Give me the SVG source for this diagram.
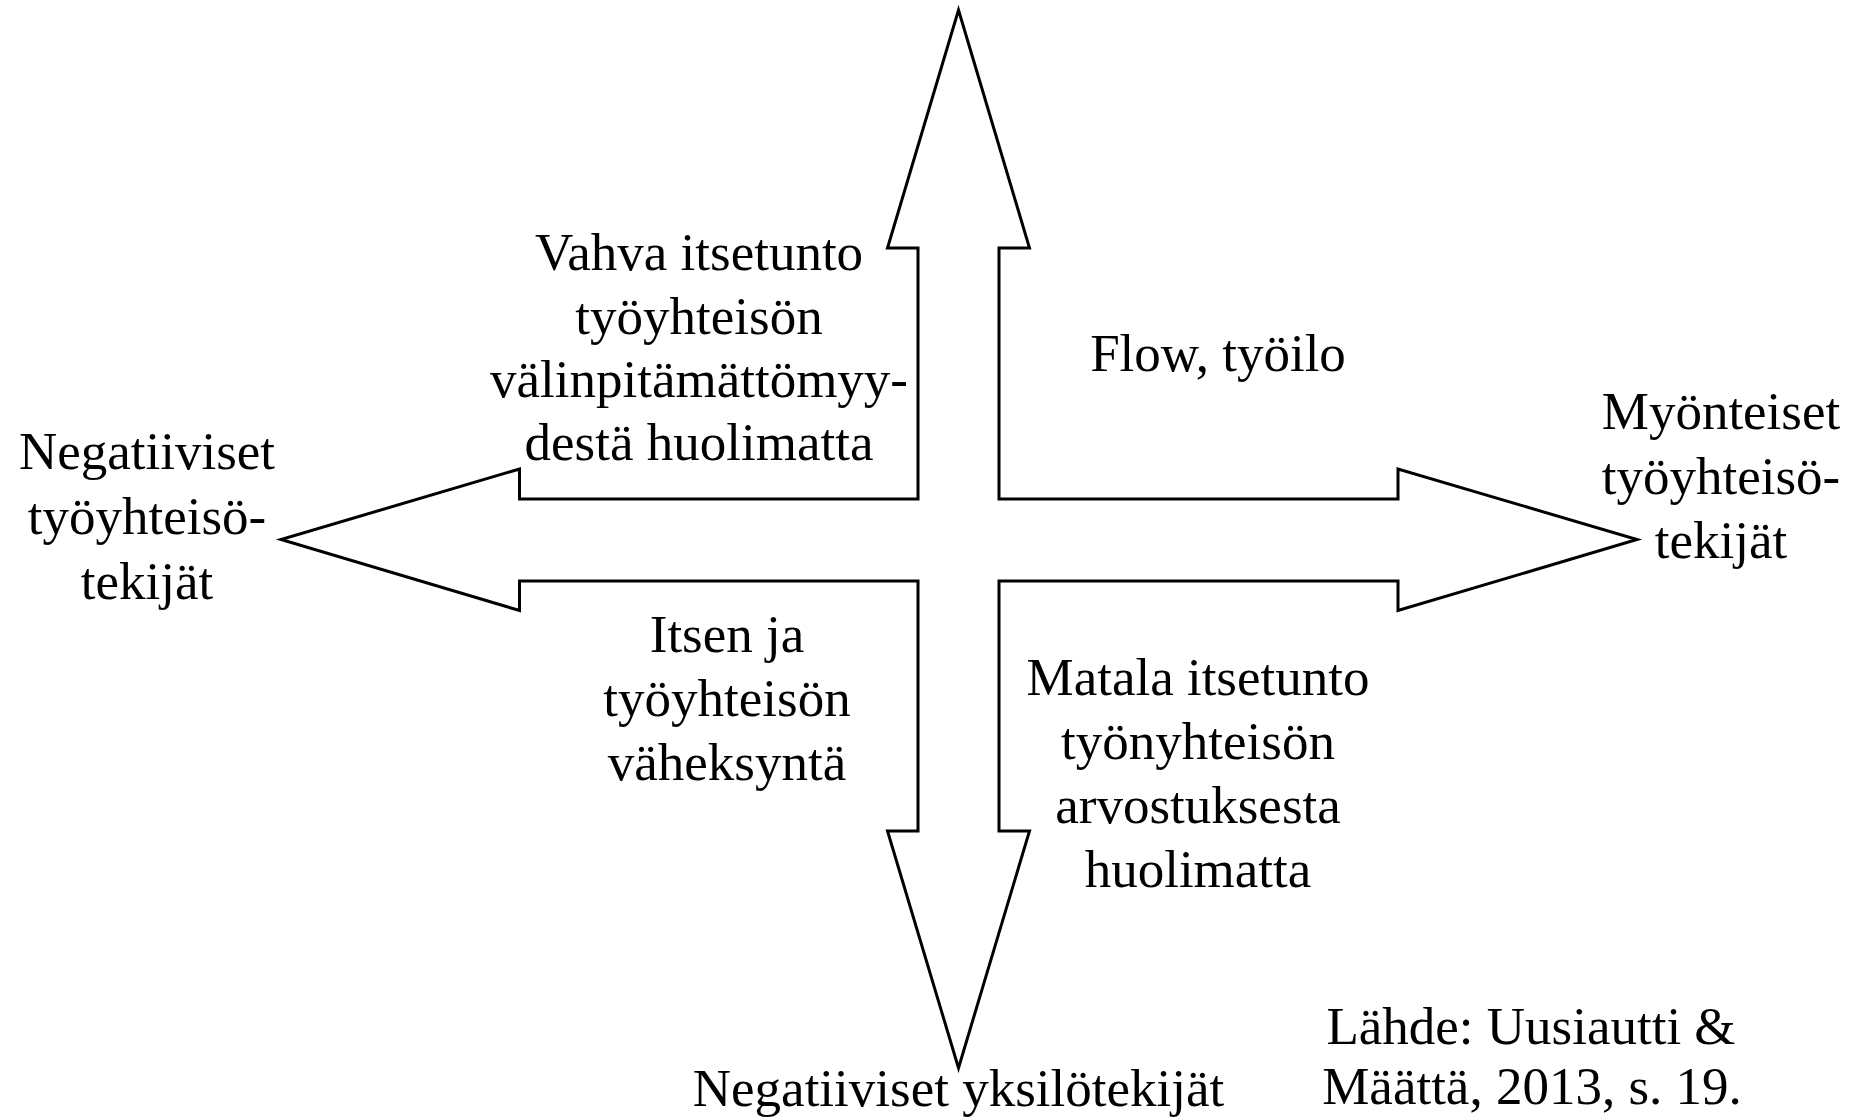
<svg xmlns="http://www.w3.org/2000/svg" width="1861" height="1120" viewBox="0 0 1861 1120">
  <style>
    .t { font-family: "Liberation Serif", "Times New Roman", serif; font-size: 53px; fill: #000; text-anchor: middle; }
    .arrow { fill: #fff; stroke: #000; stroke-width: 3; stroke-linejoin: miter; }
  </style>
  <rect width="1861" height="1120" fill="#fff"/>
  <g id="connectors">
    <polygon class="arrow" points="958.5,10 1029.5,248 999,248 999,499 1398,499 1398,469 1637,539.5 1398,610.5 1398,581 999,581 999,831 1029.5,831 958.5,1068 887.5,831 918,831 918,581 519.5,581 519.5,610.5 281,539.5 519.5,469 519.5,499 918,499 918,248 887.5,248"/>
  </g>
  <g id="node-top-left">
    <text class="t" x="699" y="270">Vahva itsetunto</text>
    <text class="t" x="699" y="334">työyhteisön</text>
    <text class="t" x="699" y="397">välinpitämättömyy-</text>
    <text class="t" x="699" y="460">destä huolimatta</text>
  </g>
  <g id="node-top-right">
    <text class="t" x="1218" y="371">Flow, työilo</text>
  </g>
  <g id="node-bottom-left">
    <text class="t" x="727" y="652">Itsen ja</text>
    <text class="t" x="727" y="716">työyhteisön</text>
    <text class="t" x="727" y="780">väheksyntä</text>
  </g>
  <g id="node-bottom-right">
    <text class="t" x="1198" y="695">Matala itsetunto</text>
    <text class="t" x="1198" y="759">työnyhteisön</text>
    <text class="t" x="1198" y="823">arvostuksesta</text>
    <text class="t" x="1198" y="887">huolimatta</text>
  </g>
  <g id="node-left">
    <text class="t" x="147" y="469">Negatiiviset</text>
    <text class="t" x="147" y="534">työyhteisö-</text>
    <text class="t" x="147" y="599">tekijät</text>
  </g>
  <g id="node-right">
    <text class="t" x="1721" y="429">Myönteiset</text>
    <text class="t" x="1721" y="494">työyhteisö-</text>
    <text class="t" x="1721" y="558">tekijät</text>
  </g>
  <g id="node-bottom">
    <text class="t" x="958.5" y="1106">Negatiiviset yksilötekijät</text>
  </g>
  <g id="node-source">
    <text class="t" x="1531" y="1044">Lähde: Uusiautti &amp;</text>
    <text class="t" x="1532" y="1104">Määttä, 2013, s. 19.</text>
  </g>
</svg>
